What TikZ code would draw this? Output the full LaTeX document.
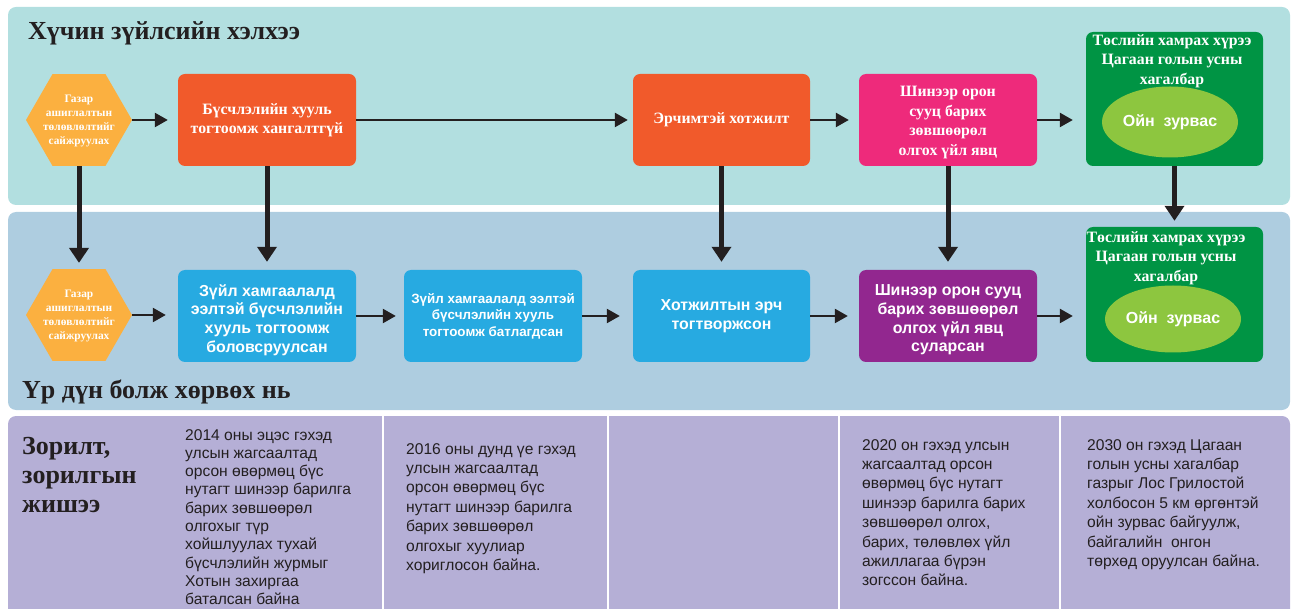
\documentclass[tikz,border=0pt]{standalone}
\usepackage{fontspec}
\setmainfont{Liberation Serif}
\setsansfont{Liberation Sans}
\usetikzlibrary{arrows.meta,shapes.geometric}
\definecolor{toppanel}{HTML}{B2DFE0}
\definecolor{midpanel}{HTML}{AECDE0}
\definecolor{botpanel}{HTML}{B5AFD6}
\definecolor{hexcol}{HTML}{FBB040}
\definecolor{redor}{HTML}{F15A2B}
\definecolor{pinkc}{HTML}{EE2A7B}
\definecolor{greenc}{HTML}{009444}
\definecolor{lgreen}{HTML}{8DC63F}
\definecolor{bluec}{HTML}{27AAE1}
\definecolor{purplec}{HTML}{92278F}
\definecolor{ink}{HTML}{231F20}
\tikzset{
  hexa/.style={regular polygon, regular polygon sides=6, minimum size=106pt, inner sep=0pt, fill=hexcol, draw=none},
  hextxt/.style={text=white, align=center, font=\bfseries\fontsize{11.4}{14}\selectfont, inner sep=0pt},
  rbox/.style={rounded corners=7pt, minimum width=178pt, minimum height=92pt, inner sep=0pt, text=white, align=center},
  boxtxt/.style={text=white, align=center, inner sep=0pt},
  serifb/.style={font=\bfseries\fontsize{15.8}{19.5}\selectfont},
  sansb/.style={font=\sffamily\bfseries\fontsize{15.9}{18.7}\selectfont},
  gtitle/.style={text=white, align=center, anchor=north, inner sep=0pt, font=\bfseries\fontsize{15.8}{19.5}\selectfont},
  ovaltxt/.style={ellipse, fill=lgreen, minimum width=136pt, inner sep=0pt, text=white, font=\sffamily\bfseries\fontsize{16}{18}\selectfont},
  harr/.style={ink, line width=2.5pt, -{Triangle[length=13pt,width=14pt]}},
  varr/.style={ink, line width=5pt, -{Triangle[length=15pt,width=19pt]}},
  coltxt/.style={anchor=north west, inner sep=0pt, align=left, text=ink, font=\sffamily\fontsize{15.6}{19.4}\selectfont},
  title/.style={text=ink, inner sep=0pt, font=\bfseries\fontsize{26}{29}\selectfont}
}
\begin{document}
\begin{tikzpicture}[x=1pt,y=-1pt]
\useasboundingbox (0,0) rectangle (1293,609);
% panels
\fill[toppanel, rounded corners=8pt] (8,7) rectangle (1290,205);
\fill[midpanel, rounded corners=8pt] (8,212) rectangle (1290,410);
\fill[botpanel] (8,625) [rounded corners=8pt] -- (8,416) -- (1290,416) -- (1290,625) [sharp corners] -- cycle;
\foreach \xx in {383,608,839,1060} \draw[white, line width=2pt] (\xx,416) -- (\xx,612);

% titles
\node[title, anchor=west] (t1) at (28,33) {Хүчин зүйлсийн хэлхээ};
\node[title, anchor=west] (t2) at (22,392) {Үр дүн болж хөрвөх нь};
\node[title, anchor=north west, align=left] (t3) at (22,437) {Зорилт,\\зорилгын\\жишээ};

% top row
\node[hexa] (h1) at (79,120) {};
\node[hextxt] (h1t) at (79,121) {Газар\\ашиглалтын\\төлөвлөлтийг\\сайжруулах};
\node[rbox, serifb, fill=redor] (b1) at (267,120) {Бүсчлэлийн хууль\\тогтоомж хангалтгүй};
\node[rbox, serifb, fill=redor, minimum width=177pt] (b2) at (721.5,120) {Эрчимтэй хотжилт};
\node[rbox, fill=pinkc] (b3) at (948,120) {};
\node[boxtxt, serifb] (b3t) at (948,122.5) {Шинээр орон\\сууц барих\\зөвшөөрөл\\олгох үйл явц};
\node[rbox, fill=greenc, minimum width=177pt, minimum height=134pt] (g1) at (1174.5,99) {};
\node[ovaltxt, minimum height=71pt] (e1) at (1170,122) {Ойн\ \ зурвас};
\node[gtitle] (g1t) at (1172,34) {Төслийн хамрах хүрээ\\Цагаан голын усны\\хагалбар};

% middle row
\node[hexa] (h2) at (79,315) {};
\node[hextxt] (h2t) at (79,316) {Газар\\ашиглалтын\\төлөвлөлтийг\\сайжруулах};
\node[rbox, fill=bluec] (b4) at (267,316) {};
\node[boxtxt, sansb] (b4t) at (267,320) {Зүйл хамгаалалд\\ээлтэй бүсчлэлийн\\хууль тогтоомж\\боловсруулсан};
\node[rbox, fill=bluec, font=\sffamily\bfseries\fontsize{13.4}{16.5}\selectfont] (b5) at (493,316) {Зүйл хамгаалалд ээлтэй\\бүсчлэлийн хууль\\тогтоомж батлагдсан};
\node[rbox, sansb, fill=bluec, minimum width=177pt] (b6) at (721.5,316) {Хотжилтын эрч\\тогтворжсон};
\node[rbox, fill=purplec] (b7) at (948,316) {};
\node[boxtxt, sansb] (b7t) at (948,320) {Шинээр орон сууц\\барих зөвшөөрөл\\олгох үйл явц\\суларсан};
\node[rbox, fill=greenc, minimum width=177pt, minimum height=135pt] (g2) at (1174.5,294.5) {};
\node[ovaltxt, minimum height=67pt] (e2) at (1173,319) {Ойн\ \ зурвас};
\node[gtitle] (g2t) at (1166,231) {Төслийн хамрах хүрээ\\Цагаан голын усны\\хагалбар};

% horizontal arrows top
\draw[harr, shorten >=10pt] (h1.east) -- (b1.west);
\draw[harr, shorten >=5pt] (b1.east) -- (b2.west);
\draw[harr, shorten >=10pt] (b2.east) -- (b3.west);
\draw[harr, shorten >=13pt] (b3.east) -- (b3.east -| g1.west);
% horizontal arrows middle
\draw[harr, shorten >=12pt] (h2.east) -- (h2.east -| b4.west);
\draw[harr, shorten >=8pt] (b4.east) -- (b5.west);
\draw[harr, shorten >=13pt] (b5.east) -- (b6.west);
\draw[harr, shorten >=11pt] (b6.east) -- (b7.west);
\draw[harr, shorten >=13pt] (b7.east) -- (b7.east -| g2.west);
% vertical arrows
\draw[varr, shorten >=6pt] (h1.south) -- (h2.north);
\draw[varr, shorten >=8pt] (b1.south) -- (b4.north);
\draw[varr, shorten >=8pt] (b2.south) -- (b6.north);
\draw[varr, shorten >=8pt] (b3.south) -- (b7.north);
\draw[varr, shorten >=6pt] (g1.south) -- (g2.north);

% bottom texts
\node[coltxt, font=\sffamily\fontsize{15.6}{18.3}\selectfont] (c1) at (185,429) {2014 оны эцэс гэхэд\\улсын жагсаалтад\\орсон өвөрмөц бүс\\нутагт шинээр барилга\\барих зөвшөөрөл\\олгохыг түр\\хойшлуулах тухай\\бүсчлэлийн журмыг\\Хотын захиргаа\\баталсан байна};
\node[coltxt] (c2) at (406,443) {2016 оны дунд үе гэхэд\\улсын жагсаалтад\\орсон өвөрмөц бүс\\нутагт шинээр барилга\\барих зөвшөөрөл\\олгохыг хуулиар\\хориглосон байна.};
\node[coltxt] (c4) at (862,439) {2020 он гэхэд улсын\\жагсаалтад орсон\\өвөрмөц бүс нутагт\\шинээр барилга барих\\зөвшөөрөл олгох,\\барих, төлөвлөх үйл\\ажиллагаа бүрэн\\зогссон байна.};
\node[coltxt] (c5) at (1087,439) {2030 он гэхэд Цагаан\\голын усны хагалбар\\газрыг Лос Грилостой\\холбосон 5 км өргөнтэй\\ойн зурвас байгуулж,\\байгалийн\ \ онгон\\төрхөд оруулсан байна.};
\end{tikzpicture}
\end{document}
